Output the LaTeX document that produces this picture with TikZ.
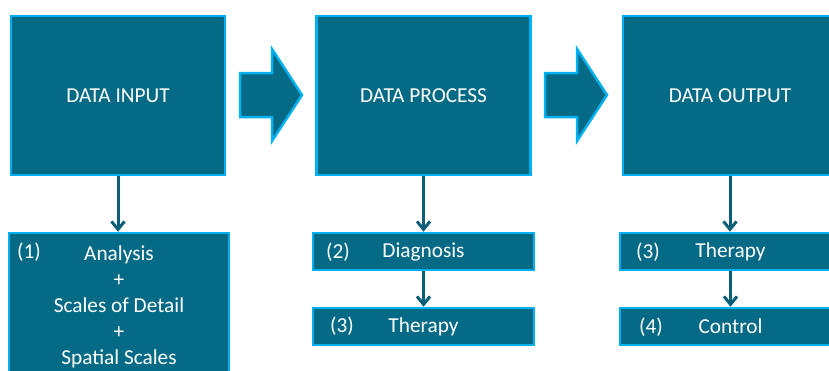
\documentclass[tikz,border=0pt]{standalone}
\usepackage{fontspec}
\setmainfont{Carlito}
\usetikzlibrary{arrows.meta}

\definecolor{boxfill}{HTML}{046A86}
\definecolor{boxline}{HTML}{00B0F0}
\definecolor{flowline}{HTML}{0B5F78}

\tikzset{
    stage/.style={draw=boxline, fill=boxfill, line width=2.5pt, text=white,
        minimum width=214pt, minimum height=159pt, inner sep=0pt,
        font=\fontsize{21.3}{26}\selectfont},
    substage/.style={draw=boxline, fill=boxfill, line width=2.5pt, text=white,
        minimum width=221pt, minimum height=37pt, inner sep=0pt,
        font=\fontsize{21.3}{26}\selectfont},
    num/.style={text=white, inner sep=0pt, font=\fontsize{21.3}{26}\selectfont},
    bigarrow/.style={draw=boxline, fill=boxfill, line width=2.5pt, line join=miter},
    flow/.style={draw=flowline, line width=3pt,
        -{Straight Barb[length=8pt,width=13pt]}}
}

\begin{document}
\begin{tikzpicture}[x=1pt,y=-1pt]

        \useasboundingbox (0,0) rectangle (829,370);

        % the three stages
        \node[stage] (input) at (118,95.5) {DATA INPUT};
        \node[stage] (process) at (423.5,95.5) {DATA PROCESS};
        \node[stage] (output) at (730,95.5) {DATA OUTPUT};

        % block arrows between the stages
        \foreach \x in {240,545}
            \draw[bigarrow] (\x,73) -- ++(32,0) -- ++(0,-24) -- ++(30,46)
                -- ++(-30,46) -- ++(0,-24) -- ++(-32,0) -- cycle;

        % sub steps
        \node[substage, minimum width=220pt, minimum height=148pt, align=center]
            (analysis) at (119,307) {Analysis\\+\\Scales of Detail\\+\\Spatial Scales};
        \node[substage] (diag) at (423.5,251.5) {Diagnosis};
        \node[substage] (ther) at (423.5,326.5) {Therapy};
        \node[substage] (ther2) at (730.5,251.5) {Therapy};
        \node[substage] (ctrl) at (730.5,326.5) {Control};

        \node[num] (n1) at (29,252) {(1)};
        \node[num] (n2) at (338,252) {(2)};
        \node[num] (n3) at (342,326) {(3)};
        \node[num] (n4) at (648,252) {(3)};
        \node[num] (n5) at (651,327) {(4)};

        \draw[flow] (input.south) -- (input.south |- analysis.north);
        \draw[flow] (process.south) -- (process.south |- diag.north);
        \draw[flow] (diag) -- (ther);
        \draw[flow] (output.south) -- (output.south |- ther2.north);
        \draw[flow] (ther2) -- (ctrl);

    \end{tikzpicture}
\end{document}
